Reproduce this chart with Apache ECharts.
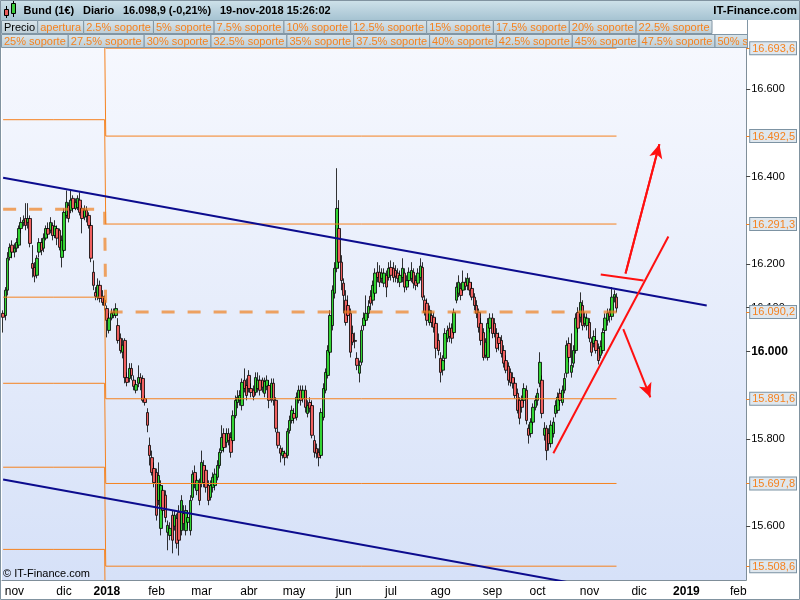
<!DOCTYPE html>
<html><head><meta charset="utf-8">
<script src="https://cdn.jsdelivr.net/npm/echarts/dist/echarts.min.js"></script>
<style>html,body{margin:0;padding:0;background:#fff}#c{width:800px;height:600px}</style>
</head><body><div id="c"></div>
<script>
// ---------- data ----------
const startDay = '2017-10-25';
const endDay = '2019-02-06';
const holidays = ['2017-12-25','2017-12-26','2018-01-01','2018-03-30','2018-04-02','2018-05-01'];
const monthNames = ['ene','feb','mar','abr','may','jun','jul','ago','sep','oct','nov','dic'];

// daily candles [open, close, low, high] from 25-oct-2017 to 19-nov-2018
const ohlc = [
[16087,16078,16043,16094],[16082,16140,16071,16147],[16140,16213,16128,16227],[16215,16238,16208,16247],[16243,16227,16213,16254],
[16227,16236,16215,16247],[16236,16249,16227,16259],[16243,16281,16236,16288],[16281,16295,16270,16307],[16295,16300,16286,16311],
[16304,16288,16277,16339],[16295,16304,16281,16339],[16304,16247,16238,16311],[16201,16190,16169,16243],[16192,16172,16158,16204],
[16174,16213,16167,16220],[16227,16249,16215,16259],[16249,16231,16220,16259],[16236,16259,16227,16270],[16259,16281,16254,16288],
[16281,16268,16259,16295],[16277,16295,16270,16307],[16288,16265,16254,16295],[16265,16286,16259,16300],[16281,16259,16243,16288],
[16277,16238,16231,16281],[16215,16254,16192,16265],[16231,16318,16227,16327],[16311,16341,16304,16368],[16334,16304,16295,16341],
[16323,16346,16316,16368],[16350,16327,16318,16357],[16327,16341,16323,16350],[16329,16350,16323,16357],[16346,16318,16311,16364],
[16327,16304,16270,16334],[16307,16323,16300,16334],[16323,16309,16295,16332],[16311,16288,16281,16318],[16288,16213,16204,16295],
[16181,16151,16140,16208],[16135,16126,16117,16147],[16124,16151,16117,16167],[16151,16121,16112,16162],[16126,16112,16105,16140],
[16117,16105,16094,16128],
[16098,16071,16032,16105],[16048,16076,16041,16087],[16076,16087,16071,16098],[16082,16089,16076,16098],[16082,16098,16076,16110],
[16059,16025,16018,16076],[16030,16002,15995,16041],[15998,16014,15984,16030],[16025,15940,15927,16030],[15940,15929,15920,15952],
[15938,15961,15929,15973],[15961,15945,15934,15973],[15934,15920,15911,15945],[15911,15924,15904,15934],[15927,15940,15918,15968],
[15940,15927,15911,15950],[15938,15888,15883,15945],[15892,15883,15876,15899],[15860,15831,15815,15870],[15785,15762,15739,15803],
[15757,15723,15716,15773],[15732,15700,15689,15746],
[15723,15625,15613,15732],[15659,15716,15648,15746],[15595,15693,15579,15705],[15682,15636,15625,15693],[15671,15620,15609,15682],
[15586,15602,15545,15613],[15579,15595,15568,15609],[15625,15568,15538,15636],[15600,15625,15590,15636],[15618,15561,15549,15629],
[15632,15568,15533,15648],[15590,15659,15579,15671],[15629,15606,15590,15648],[15590,15636,15579,15648],[15609,15620,15595,15636],
[15590,15659,15579,15671],[15666,15719,15659,15728],[15723,15698,15687,15739],[15682,15705,15671,15716],[15698,15659,15648,15709],
[15698,15746,15689,15773],[15739,15700,15689,15751],[15728,15689,15677,15739],[15693,15659,15648,15705],[15666,15693,15659,15705],
[15689,15712,15677,15723],[15693,15719,15682,15732],[15712,15739,15705,15751],[15739,15769,15732,15778],[15773,15803,15767,15831],
[15812,15780,15769,15824],[15792,15812,15780,15824],[15812,15796,15785,15824],[15803,15769,15757,15815],[15796,15853,15789,15865],
[15853,15888,15847,15899],[15883,15895,15870,15911],[15888,15899,15876,15911],[15876,15929,15865,15938],[15934,15915,15906,15961],
[15922,15899,15888,15938],
[15945,15915,15906,15957],[15915,15906,15895,15927],[15911,15897,15888,15922],[15906,15940,15899,15952],[15915,15934,15906,15952],
[15934,15911,15899,15945],[15934,15918,15906,15940],[15904,15931,15895,15940],[15920,15934,15911,15945],[15922,15888,15870,15934],
[15892,15927,15883,15938],[15927,15888,15876,15938],[15888,15824,15815,15895],[15815,15785,15778,15824],[15778,15767,15746,15785],
[15762,15771,15755,15780],[15767,15757,15739,15773],[15762,15817,15755,15824],[15819,15842,15812,15853],[15842,15865,15835,15876],
[15858,15847,15835,15870],[15849,15895,15842,15906],[15888,15911,15881,15922],[15911,15888,15876,15922],[15892,15911,15883,15922],
[15911,15872,15860,15922],[15858,15876,15849,15888],[15883,15870,15860,15895],[15876,15808,15801,15888],[15796,15769,15757,15808],
[15778,15767,15755,15789],[15769,15757,15737,15778],[15762,15860,15755,15870],[15849,15915,15842,15927],[15911,15952,15904,15961],
[15945,16002,15938,16014],[15998,16082,15991,16094],[16059,16140,16048,16151],[16133,16190,16121,16204],[16190,16327,16181,16419],
[16281,16204,16190,16346],[16204,16162,16140,16220],
[16156,16128,16087,16167],[16117,16066,16059,16140],[16105,16082,16071,16128],[16087,15998,15986,16098],[16041,16021,16014,16059],
[16025,16023,16007,16043],[15984,15968,15957,15998],[15950,15968,15929,15979],[15975,16048,15968,16059],[16059,16076,16048,16089],
[16071,16087,16059,16128],[16087,16103,16076,16117],[16126,16110,16094,16140],[16117,16151,16105,16162],[16133,16179,16124,16190],
[16181,16169,16158,16204],[16181,16158,16147,16197],[16167,16179,16156,16190],[16156,16179,16147,16190],[16174,16147,16124,16185],
[16169,16190,16162,16204],
[16192,16174,16162,16208],[16190,16169,16158,16204],[16185,16172,16158,16197],[16179,16167,16156,16190],[16158,16174,16147,16185],
[16169,16190,16158,16213],[16179,16147,16135,16190],[16147,16162,16140,16174],[16162,16181,16151,16192],[16167,16185,16158,16204],
[16181,16156,16144,16190],[16162,16151,16140,16174],[16156,16179,16147,16190],[16169,16195,16162,16213],[16192,16124,16117,16204],
[16117,16089,16082,16128],[16110,16071,16059,16121],[16066,16094,16059,16105],[16082,16066,16055,16094],[16078,16055,16043,16089],
[16064,16007,15984,16076],[16025,16002,15991,16041],
[15984,15952,15929,15998],[15957,15979,15945,15991],[15984,16041,15975,16053],[16030,16048,16021,16059],[16053,16034,16021,16066],
[16053,16030,16018,16064],[16043,16089,16037,16098],[16117,16147,16110,16158],[16133,16158,16124,16174],[16144,16128,16117,16156],
[16140,16158,16133,16185],[16158,16149,16140,16169],[16151,16167,16140,16179],[16158,16140,16128,16169],[16144,16124,16117,16158],
[16124,16105,16094,16133],[16105,16087,16076,16117],[16089,16055,16043,16098],[16064,16025,16014,16076],[16043,15986,15979,16053],
[15991,16021,15984,16030],[15986,16064,15979,16076],[16053,16076,16043,16087],
[16076,16041,16030,16087],[16064,16041,16032,16076],[16041,16007,15998,16053],[16032,16018,16002,16043],[16025,15995,15986,16037],
[16002,15973,15963,16014],[15979,15957,15950,15991],[15966,15934,15922,15975],[15952,15929,15920,15961],[15940,15927,15915,15952],
[15927,15899,15892,15938],[15904,15865,15858,15915],[15888,15847,15833,15895],[15888,15872,15860,15899],[15888,15915,15881,15927],
[15911,15842,15833,15922],[15824,15808,15789,15833],[15812,15838,15803,15847],[15838,15872,15831,15881],[15872,15888,15865,15899],
[15888,15904,15876,15915],[15927,15975,15918,15998],[15934,15858,15847,15945],[15808,15824,15796,15838],[15824,15773,15751,15831],
[15812,15789,15773,15824],[15789,15831,15780,15842],[15812,15838,15803,15849],[15858,15876,15849,15888],[15865,15895,15858,15906],
[15904,15888,15876,15915],[15883,15911,15876,15922],[15911,15938,15904,15950],[15950,16014,15940,16025],[16018,15986,15975,16032],
[15952,15968,15940,16041],[15973,16002,15963,16014],[16002,16076,15995,16087],[16089,16053,16043,16101],[16078,16112,16066,16135],
[16105,16059,16048,16117],[16064,16078,16055,16089],[16059,16076,16048,16087],
[16066,16030,16021,16076],[16021,15998,15989,16032],[16018,16034,16009,16048],[16025,16002,15995,16053],[16007,15979,15970,16018],
[15991,16011,15984,16025],[16002,16043,15995,16053],[16048,16076,16041,16087],[16071,16087,16059,16098],[16089,16080,16066,16098],
[16080,16124,16071,16147],[16124,16130,16112,16140],[16124,16099,16089,16133]
];

// yearly support levels (2017 set -> 2018 set), index 3 = "apertura"
const levels2017 = [16940, 16735, 16530, 16325, 16124, 15927, 15735, 15547];
const levels2018 = [16693.6, 16492.5, 16291.3, 16090.2, 15891.6, 15697.8, 15508.6, 15320];
const openLevelIndex = 3;
const firstIndex2018 = 46;

// right-axis tick labels
const yTickValues = [15600, 15800, 16000, 16100, 16200, 16400, 16600];
const levelTickValues = [16693.6, 16492.5, 16291.3, 16090.2, 15891.6, 15697.8, 15508.6];
const yMin = 15477, yMax = 16694;

// drawn trend lines [categoryIndex, value]
const trendUpper = [[0, 16397], [312, 16105]];
const trendLower = [[0, 15707], [260, 15463]];
const redTrend = [[244, 15767], [295, 16263]];
const redMark = [[265, 16176], [284, 16162]];
const arrowUp = [[276, 16178], [291, 16474]];
const arrowDown = [[275, 16051], [287, 15895]];

// header / tab texts
const headerParts = ['Bund (1€)', 'Diario', '16.098,9 (-0,21%)', '19-nov-2018 15:26:02'];
const tabsRow1 = ['Precio','apertura','2.5% soporte','5% soporte','7.5% soporte','10% soporte','12.5% soporte','15% soporte','17.5% soporte','20% soporte','22.5% soporte'];
const tabsRow2 = ['25% soporte','27.5% soporte','30% soporte','32.5% soporte','35% soporte','37.5% soporte','40% soporte','42.5% soporte','45% soporte','47.5% soporte','50% soporte'];

// ---------- build ----------
function buildDates() {
  const out = [];
  const s = new Date(startDay + 'T00:00:00Z').getTime();
  const e = new Date(endDay + 'T00:00:00Z').getTime();
  for (let t = s; t <= e; t += 86400000) {
    const d = new Date(t);
    const wd = d.getUTCDay();
    const iso = d.toISOString().slice(0, 10);
    if (wd !== 0 && wd !== 6 && holidays.indexOf(iso) < 0) out.push(iso);
  }
  return out;
}
const dates = buildDates();
const isMonthStart = dates.map((d, i) => i > 0 && d.slice(0, 7) !== dates[i - 1].slice(0, 7));
const lastIndex = ohlc.length - 1;

function fmtNum(v, dec) {
  const s = v.toFixed(dec);
  const p = s.split('.');
  const ip = p[0];
  const g = ip.slice(0, ip.length - 3) + '.' + ip.slice(ip.length - 3);
  return dec ? g + ',' + p[1] : g;
}

const FONT = '"Liberation Sans", Arial, sans-serif';
const ORANGE = '#f5821f';

const levelSeries = levels2017.map((v17, k) => {
  const dashed = k === openLevelIndex;
  return {
    type: 'line', step: 'middle', symbol: 'none', silent: true, z: 3,
    data: [[0, v17], [firstIndex2018 - 1, v17], [firstIndex2018, levels2018[k]], [lastIndex, levels2018[k]]],
    lineStyle: dashed ? { color: 'rgba(240,128,32,0.7)', width: 3, type: [13, 13] } : { color: ORANGE, width: 1 }
  };
});

function lineSer(data, color, width, z) {
  return { type: 'line', data: data, symbol: 'none', silent: true, z: z, lineStyle: { color: color, width: width } };
}

// tabs via text measurement
const ctx = document.createElement('canvas').getContext('2d');
ctx.font = '11px ' + FONT;
function tabElements(list, y, firstBlack) {
  const els = [];
  let x = 1;
  list.forEach((t, i) => {
    const w = ctx.measureText(t).width + 5;
    els.push({ type: 'rect', z: 5, shape: { x: x + 0.5, y: y + 0.5, width: w, height: 13 },
      style: { fill: new echarts.graphic.LinearGradient(0, 0, 0, 1, [{ offset: 0, color: '#d9e5eb' }, { offset: 1, color: '#bccdd6' }]), stroke: '#8196a5', lineWidth: 1 } });
    els.push({ type: 'text', z: 6, x: x + 3, y: y + 7.5,
      style: { text: t, font: '11px ' + FONT, fill: (firstBlack && i === 0) ? '#000' : ORANGE, textVerticalAlign: 'middle', verticalAlign: 'middle' } });
    x += w;
  });
  return els;
}

const graphics = [];
// title bar
graphics.push({ type: 'rect', z: 5, shape: { x: 0, y: 0, width: 800, height: 20 },
  style: { fill: new echarts.graphic.LinearGradient(0, 0, 0, 1, [{ offset: 0, color: '#cfe2ea' }, { offset: 1, color: '#a6c3d2' }]) } });
// icon
graphics.push({ type: 'line', z: 6, shape: { x1: 6.5, y1: 6, x2: 6.5, y2: 18 }, style: { stroke: '#000', lineWidth: 1 } });
graphics.push({ type: 'rect', z: 6, shape: { x: 4.5, y: 9.5, width: 4, height: 6 }, style: { fill: '#e85a5a', stroke: '#000', lineWidth: 1 } });
graphics.push({ type: 'line', z: 6, shape: { x1: 13.5, y1: 1, x2: 13.5, y2: 17 }, style: { stroke: '#000', lineWidth: 1 } });
graphics.push({ type: 'rect', z: 6, shape: { x: 11.5, y: 3.5, width: 4, height: 10 }, style: { fill: '#3ccc3c', stroke: '#000', lineWidth: 1 } });
const headerX = [23.5, 83, 123, 220];
headerParts.forEach((t, i) => graphics.push({ type: 'text', z: 6, x: headerX[i], y: 11,
  style: { text: t, font: 'bold 11px ' + FONT, fill: '#000', textVerticalAlign: 'middle', verticalAlign: 'middle' } }));
graphics.push({ type: 'text', z: 6, x: 797, y: 11,
  style: { text: 'IT-Finance.com', font: 'bold 11.5px ' + FONT, fill: '#000', textAlign: 'right', align: 'right', textVerticalAlign: 'middle', verticalAlign: 'middle' } });
tabElements(tabsRow1, 20, true).forEach(e => graphics.push(e));
tabElements(tabsRow2, 34, false).forEach(e => graphics.push(e));
// cover right side of tab rows
graphics.push({ type: 'rect', z: 7, shape: { x: 747.5, y: 20, width: 53, height: 28 }, style: { fill: '#fff' } });
graphics.push({ type: 'line', z: 7, shape: { x1: 747.5, y1: 20, x2: 747.5, y2: 48 }, style: { stroke: '#8196a5', lineWidth: 1 } });
// copyright
graphics.push({ type: 'text', z: 6, x: 3, y: 574,
  style: { text: '© IT-Finance.com', font: '11px ' + FONT, fill: '#000', textVerticalAlign: 'middle', verticalAlign: 'middle' } });
// outer frame
graphics.push({ type: 'rect', z: 30, shape: { x: 0.5, y: 0.5, width: 799, height: 599 }, style: { fill: 'none', stroke: '#8193a0', lineWidth: 1 } });

const chart = echarts.init(document.getElementById('c'), null, { renderer: 'canvas' });
chart.setOption({
  animation: false,
  backgroundColor: '#fff',
  textStyle: { fontFamily: FONT },
  grid: { left: 2, right: 53, top: 48, bottom: 20, show: true, borderWidth: 0,
    backgroundColor: new echarts.graphic.LinearGradient(0, 0, 0, 1, [{ offset: 0, color: '#f6f8fe' }, { offset: 1, color: '#d6e1f8' }]) },
  xAxis: {
    type: 'category', data: dates, boundaryGap: true,
    axisLine: { lineStyle: { color: '#7f8e99' } },
    axisTick: { alignWithLabel: true, interval: (i) => isMonthStart[i], length: 4, lineStyle: { color: '#555' } },
    axisLabel: { interval: (i) => isMonthStart[i], margin: 6, fontSize: 12, color: '#000', fontFamily: FONT,
      formatter: (v) => { const m = +v.slice(5, 7); return m === 1 ? '{y|' + v.slice(0, 4) + '}' : monthNames[m - 1]; },
      rich: { y: { fontWeight: 'bold', fontSize: 12, color: '#000', fontFamily: FONT } } },
    splitLine: { show: false }
  },
  yAxis: [{
    type: 'value', position: 'right', min: yMin, max: yMax, z: 10,
    axisLine: { show: true, lineStyle: { color: '#7f8e99' } },
    axisTick: { show: true, customValues: yTickValues, length: 4, lineStyle: { color: '#444' } },
    axisLabel: { customValues: yTickValues, margin: 5, fontSize: 11, color: '#000', fontFamily: FONT,
      formatter: (v) => v === 16000 ? '{b|' + fmtNum(v, 0) + '}' : fmtNum(v, 0),
      rich: { b: { fontWeight: 'bold', fontSize: 12, color: '#000', fontFamily: FONT } } },
    splitLine: { show: false }
  }, {
    type: 'value', position: 'right', min: yMin, max: yMax, z: 20,
    axisLine: { show: false },
    axisTick: { show: true, customValues: levelTickValues, length: 4, lineStyle: { color: ORANGE } },
    axisLabel: { customValues: levelTickValues, margin: 4, fontFamily: FONT,
      formatter: (v) => '{bx|' + fmtNum(v, 1) + '}',
      rich: { bx: { color: ORANGE, fontSize: 11, fontFamily: FONT, backgroundColor: '#dfe7ee', borderColor: '#7d93a3', borderWidth: 1, padding: [1, 1, 0, 2], lineHeight: 11 } } },
    splitLine: { show: false }
  }],
  series: [
    { type: 'candlestick', data: ohlc, barWidth: 3, z: 2, silent: true,
      itemStyle: { color: '#33d433', color0: '#f06060', borderColor: '#000', borderColor0: '#000', borderWidth: 0.8 } }
  ].concat(levelSeries).concat([
    lineSer(trendUpper, '#0c0c8e', 2, 4),
    lineSer(trendLower, '#0c0c8e', 2, 4),
    lineSer(redTrend, '#ff1010', 2, 5),
    lineSer(redMark, '#ff1010', 2, 5),
    Object.assign(lineSer(arrowUp, '#ff1010', 2, 5), {
      markLine: { silent: true, animation: false, symbol: ['none', 'arrow'], symbolSize: [10, 14], label: { show: false },
        lineStyle: { color: '#ff1010', width: 2, type: 'solid' },
        data: [[{ coord: arrowUp[0] }, { coord: arrowUp[1] }], [{ coord: arrowDown[0] }, { coord: arrowDown[1] }]] } })
  ]),
  graphic: { elements: graphics }
});
</script></body></html>
